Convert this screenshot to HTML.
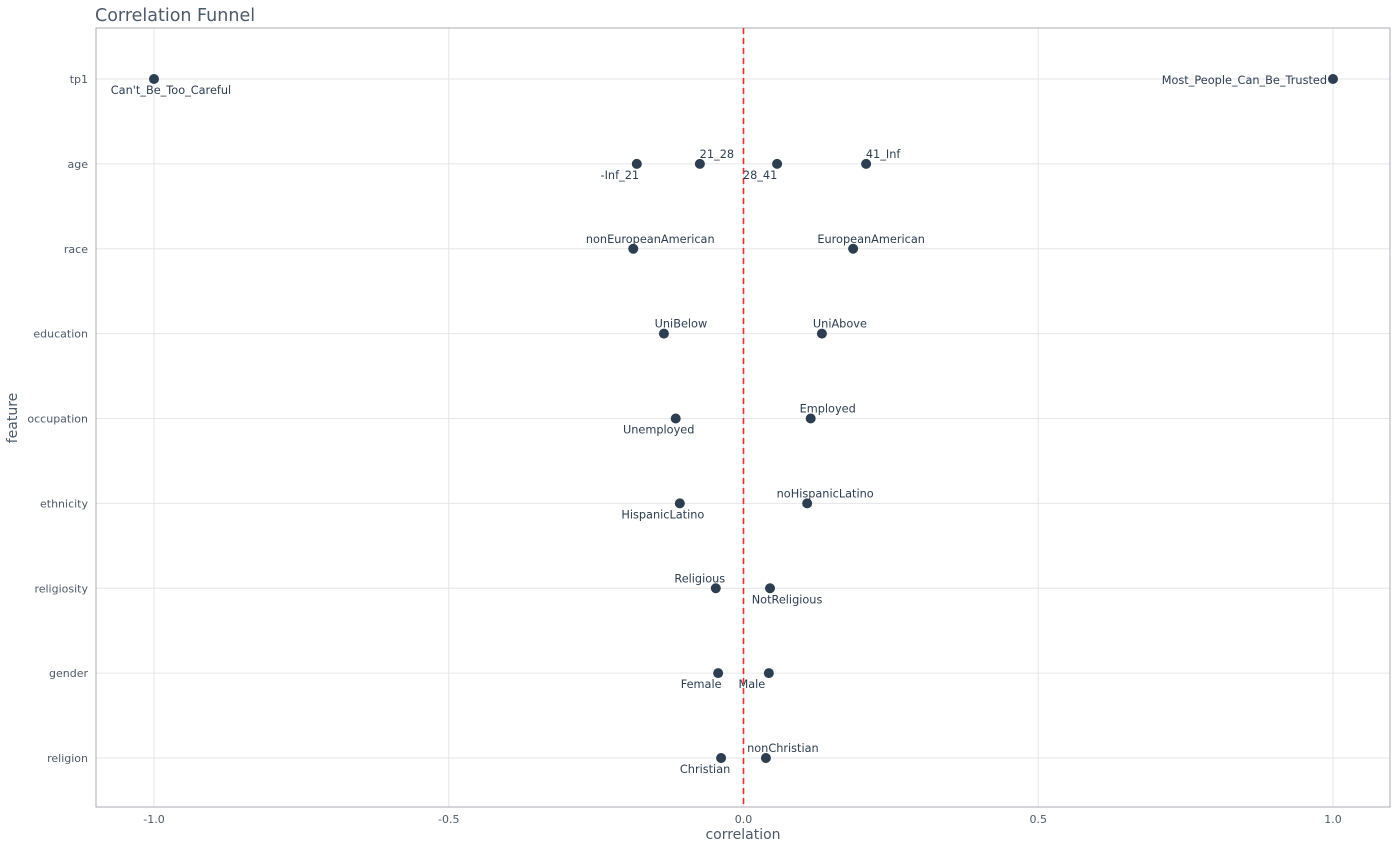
<!DOCTYPE html>
<html><head><meta charset="utf-8"><style>
html,body{margin:0;padding:0;background:#fff;}
svg{display:block;font-family:"DejaVu Sans","Liberation Sans",sans-serif;}
</style></head><body>
<svg id="chart" width="1400" height="850">
<text x="95" y="21" font-size="17.5" fill="#4d5a68">Correlation Funnel</text>
<g id="grid"></g>
<rect x="96" y="28" width="1294" height="779" fill="none" stroke="#a9aeb4" stroke-width="1"/>
<g id="marks"></g>
<text x="743" y="839" font-size="14" fill="#4d5a68" text-anchor="middle">correlation</text>
<text transform="translate(17,418) rotate(-90)" font-size="14" fill="#4d5a68" text-anchor="middle">feature</text>
</svg>
<script>
const features = ["tp1","age","race","education","occupation","ethnicity","religiosity","gender","religion"];
const pointFeature = ["tp1","tp1","age","age","age","age","race","race","education","education","occupation","occupation","ethnicity","ethnicity","religiosity","religiosity","gender","gender","religion","religion"];
const pointLabel = ["Can't_Be_Too_Careful","Most_People_Can_Be_Trusted","-Inf_21","21_28","28_41","41_Inf","nonEuropeanAmerican","EuropeanAmerican","UniBelow","UniAbove","Unemployed","Employed","HispanicLatino","noHispanicLatino","Religious","NotReligious","Female","Male","Christian","nonChristian"];
const correlation = [-1,1,-0.181,-0.074,0.057,0.208,-0.187,0.186,-0.135,0.133,-0.115,0.114,-0.108,0.108,-0.047,0.045,-0.043,0.043,-0.038,0.038];
const xTicks = [-1.0,-0.5,0.0,0.5,1.0];
const xTickLabels = ["-1.0","-0.5","0.0","0.5","1.0"];
// label layout offsets (dx, dy, anchor)
const labelDx = [17,-6,-17,17,-17,17,17,18,17,18,-17,17,-17,18,-16,17,-17,-17,-16,17];
const labelDy = [11,1,11,-10,11,-10,-10,-10,-10,-10,11,-10,11,-10,-10,11,11,11,11,-10];
const labelAnchor = ["middle","end","middle","middle","middle","middle","middle","middle","middle","middle","middle","middle","middle","middle","middle","middle","middle","middle","middle","middle"];

const NS="http://www.w3.org/2000/svg";
function xs(v){return 743.5+v*589.5;}
function ys(f){return 79+features.indexOf(f)*84.875;}
function mk(t,a,p){const e=document.createElementNS(NS,t);for(const k in a)e.setAttribute(k,a[k]);p.appendChild(e);return e;}
const grid=document.getElementById('grid'), marks=document.getElementById('marks');
xTicks.forEach((t,i)=>{
  const l=mk('line',{x1:xs(t),x2:xs(t),y1:28,y2:807,stroke:'#e6e6e6','stroke-width':1},grid);
  
  
  const tx=mk('text',{x:xs(t),y:823,'font-size':11,fill:'#4d5a68','text-anchor':'middle'},grid);
  tx.textContent=xTickLabels[i];
  
  
});
features.forEach(f=>{
  const y=ys(f);
  const l=mk('line',{x1:96,x2:1390,y1:y,y2:y,stroke:'#e6e6e6','stroke-width':1},grid);
  
  
  const tx=mk('text',{x:88,y:y+4,'font-size':11,fill:'#4d5a68','text-anchor':'end'},grid);
  tx.textContent=f;
  
  
});
const zl=mk('line',{x1:xs(0),x2:xs(0),y1:28,y2:807,stroke:'#ff2a2a','stroke-width':1.6,'stroke-dasharray':'6,4'},marks);


correlation.forEach((v,i)=>{
  const cx=xs(v), cy=ys(pointFeature[i]);
  const c=mk('circle',{cx:cx,cy:cy,r:5,fill:'#2c3e50'},marks);
  
  
  const t=mk('text',{x:cx+labelDx[i],y:cy+labelDy[i]+4,'font-size':11.3,fill:'#2c3e50','text-anchor':labelAnchor[i]},marks);
  t.textContent=pointLabel[i];
  
  
});
</script>
</body></html>
